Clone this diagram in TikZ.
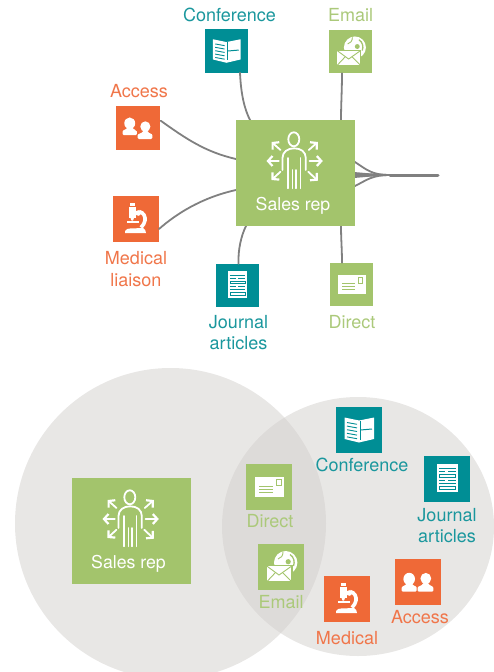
\documentclass[tikz,border=0pt]{standalone}
\usepackage{fontspec}
\setmainfont{TeX Gyre Heros}
\usetikzlibrary{arrows.meta}
\definecolor{teal1}{HTML}{008E95}
\definecolor{orange1}{HTML}{EF6937}
\definecolor{green1}{HTML}{A3C46C}
\definecolor{wire}{HTML}{808080}
\definecolor{disc}{HTML}{D2CFCC}
\definecolor{tealtext}{HTML}{1A979D}
\definecolor{orangetext}{HTML}{F0764A}
\definecolor{greentext}{HTML}{ABC97A}
\tikzset{
  x=1pt,y=-1pt,
  tile/.style={minimum size=#1,inner sep=0pt,outer sep=0pt,draw=none},
  tealtile/.style={tile=#1,fill=teal1},
  orangetile/.style={tile=#1,fill=orange1},
  greentile/.style={tile=#1,fill=green1},
  repbox/.style={minimum width=119,minimum height=106,inner sep=0pt,outer sep=0pt,fill=green1},
  lbl/.style={font=\fontsize{18}{21.5}\selectfont,align=center,inner sep=0pt},
  teallbl/.style={lbl,text=tealtext},
  orangelbl/.style={lbl,text=orangetext},
  greenlbl/.style={lbl,text=greentext},
  replbl/.style={lbl,text=white,font=\fontsize{17.7}{21}\selectfont},
  wireline/.style={draw=wire,line width=1.8,line cap=round},
  trunk/.style={draw=wire,line width=3,line cap=round},
  discfill/.style={fill=disc,fill opacity=.5,draw=none},
  iconline/.style={draw=white,line width=1.8,line cap=round,line join=round},
  pics/rep/.style={code={
    \draw[iconline] (-1.7,-33.7) ellipse (5.5 and 7);
    \draw[iconline] (-13,-3) -- (-13,-15) .. controls (-13,-21) and (-8,-24.7) .. (-1.3,-24.7) .. controls (5.5,-24.7) and (10.3,-21) .. (10.3,-15) -- (10.3,-3);
    \draw[iconline] (-7.5,-15) -- (-7.5,15.3);
    \draw[iconline] (-3,-3) -- (-3,15.3);
    \draw[iconline] (0.6,-3) -- (0.6,15.3);
    \draw[iconline] (5,-15) -- (5,15.3);
    \foreach \ax/\ay/\bx/\by in {-16.7/-12/-29/-12,14/-12/27.3/-12,-15/-23/-24/-31,13.3/-23/22.3/-31,-15/-1.3/-24/7,12.7/-1.3/22.3/7.7}{
      \draw[iconline,-{Straight Barb[length=4.5,width=10,line width=2.2]}] (\ax,\ay) -- (\bx,\by);
    }
  }},
  pics/book/.style={code={
    \fill[white] (-14.5,-12.5) -- (0,-9.5) -- (15,-12.5) -- (15,9) -- (0,12.5) -- (-14.5,9) -- cycle;
    \foreach \i in {0,1,2,3,4}{
      \draw[teal1,line width=.9] (-12,-7.5+\i*3.6) -- (-2,-5.7+\i*3.6);
    }
    \draw[teal1,line width=1] (1.5,-9.5) -- (1.5,10);
    \draw[teal1,line width=1] (1.5,0) -- (13,-1);
  }},
  pics/doc/.style={code={
    \fill[white] (-10,-15) rectangle (10.5,13);
    \begin{scope}[teal1,line width=.8]
      \draw (-8,-11) -- (8.5,-11);
      \draw (-8,-7.5) -- (-2,-7.5) (1,-7.5) -- (8.5,-7.5);
      \draw (-8,-4.7) rectangle (8.5,-2);
      \draw (-8,1) -- (-2,1) (1,1) -- (8.5,1);
      \draw (-8,4) -- (8.5,4);
      \draw (-8,7) rectangle (8.5,10);
    \end{scope}
  }},
  pics/card/.style={code={
    \fill[white] (-14,-10) rectangle (15,10);
    \draw[green1,line width=.9] (7,-7.5) rectangle (12,-1.5);
    \foreach \yy in {-1,2.3,5.7}{
      \draw[green1,line width=.9] (-10,\yy) -- (4,\yy);
    }
  }},
  pics/mailglobe/.style={code={
    \fill[white] (4.7,-4.3) circle (11.7);
    \fill[green1] (7.2,-5.3) circle (2.6);
    \draw[green1,line width=1.3] (9,-12.5) .. controls (13,-10) and (14,-5) .. (12.5,-1);
    \draw[green1,line width=.9] (-3,-8) .. controls (0,-9) and (2,-11) .. (2,-15);
    \fill[white,draw=green1,line width=1.2] (-14.6,-1.2) -- (11,-1.2) -- (11,15) -- (-14.6,15) -- cycle;
    \draw[green1,line width=.9] (-14,-.8) -- (-2,8) -- (10.5,-.8);
    \draw[green1,line width=.9] (-14,14.5) -- (-5.5,5.5) (10.5,14.5) -- (1.5,5.5);
  }},
  pics/people/.style={code={
    \begin{scope}[yshift=#1]
    \fill[white] (-8.8,-3) ellipse (5.8 and 6.2);
    \fill[white,rounded corners=1.2] (-16.3,9.7) -- (-16.3,7) .. controls (-16.3,4) and (-12,3.5) .. (-12,1) -- (-5.5,1) .. controls (-5.5,3.5) and (-1.3,4) .. (-1.3,7) -- (-1.3,9.7) -- cycle;
    \end{scope}
    \begin{scope}[yshift=-#1]
    \fill[white] (7.8,-3.5) ellipse (5.4 and 5.6);
    \fill[white,rounded corners=1.2] (-.3,9.7) -- (-.3,7) .. controls (-.3,4) and (4.5,3.5) .. (4.5,1) -- (11,1) .. controls (11,3.5) and (15.3,4) .. (15.3,7) -- (15.3,9.7) -- cycle;
    \end{scope}
  }},
  pics/scope/.style={code={
    \fill[white] (-6.5,-15.7) rectangle (-1.5,-13.2);
    \fill[white] (-7,-12.3) rectangle (-.5,-1);
    \fill[white] (-5.5,-1) -- (-2,-1) -- (-3,1.5) -- (-4.5,1.5) -- cycle;
    \fill[white] (-8.7,2.2) rectangle (3,3.8);
    \fill[white] (2.3,-6) circle (2.8);
    \draw[white,line width=3.6] (3,-7.5) .. controls (8,-6.5) and (9.5,-2) .. (9,1.5) .. controls (8.7,4) and (7,6.5) .. (5,8.5);
    \fill[white] (-11,14) -- (-11,12) .. controls (-9.5,10) and (-8,9.5) .. (-6,9.5) -- (7,9) .. controls (9,10) and (10,12) .. (10,14) -- cycle;
  }}
}
\begin{document}
\begin{tikzpicture}
\useasboundingbox (0,0) rectangle (494,672);
% top group: connectors first, so the sales box covers them
\node[repbox] (rep) at (295.5,173) {};
\node[tealtile=43.5] (conf) at (226.5,51) {};
\node[greentile=43.5] (mail) at (350.5,51.5) {};
\node[orangetile=43.5] (acc) at (138,128) {};
\node[orangetile=46] (med) at (136,219) {};
\node[tealtile=43.5] (jour) at (237.5,285.5) {};
\node[greentile=43.5] (dir) at (351.5,284.5) {};
\coordinate (hub) at (438,175);
\coordinate (join) at (390,175);
\draw[wireline] ([xshift=13.5]conf.south) .. controls (241,96) and (245,110) .. (250,120) .. controls (262,145) and (335,150) .. (355,162) .. controls (367,170) and (372,175) .. (join);
\draw[wireline] ([xshift=-8.5]mail.south) .. controls (342,90) and (341,105) .. (341,120) .. controls (341,150) and (345,172) .. (355,173) .. controls (367,174) and (375,175) .. (join);
\draw[wireline] ([xshift=1,yshift=29]acc.south east) .. controls (185,138) and (205,152) .. (236,159) .. controls (280,168) and (330,172) .. (355,174) -- (join);
\draw[wireline] ([yshift=13]med.south east) .. controls (175,215) and (200,198) .. (236,190) .. controls (280,180) and (330,178) .. (355,176) -- (join);
\draw[wireline] ([xshift=1]jour.north) .. controls (238,250) and (241,236) .. (246,226) .. controls (262,200) and (335,195) .. (355,186) .. controls (367,180) and (372,175) .. (join);
\draw[wireline] ([xshift=-9.5]dir.north) .. controls (342,250) and (341,238) .. (341,226) .. controls (341,200) and (345,178) .. (355,177) .. controls (367,176) and (375,175) .. (join);
\draw[trunk] (join) -- (hub);
\fill[green1] (rep.south west) rectangle (rep.north east);
\pic at (rep) {rep};
\node[replbl] (replabel) at (293,206) {Sales rep};
\pic[scale=.94] at (conf) {book};
\pic[scale=.94] at (mail) {mailglobe};
\pic[scale=.94] at (acc) {people=2};
\pic at (med) {scope};
\pic[scale=.94] at (jour) {doc};
\pic[scale=.94] at (dir) {card};
\node[teallbl] (conflabel) at (229.5,15) {Conference};
\node[greenlbl] (maillabel) at (350.5,15) {Email};
\node[orangelbl] (acclabel) at (139,91) {Access};
\node[orangelbl] (medlabel) at (136,269) {Medical\\liaison};
\node[teallbl] (jourlabel) at (238.5,332.5) {Journal\\articles};
\node[greenlbl] (dirlabel) at (352,322) {Direct};
% bottom group
\path[discfill] (170.5,523.5) circle (155.5);
\path[discfill] (358,526.5) ellipse (136 and 129.5);
\node[repbox] (rep2) at (131.5,531) {};
\pic at (rep2) {rep};
\node[replbl] (rep2label) at (128.5,564) {Sales rep};
\node[tealtile=46] (conf2) at (359,430) {};
\node[tealtile=46] (jour2) at (447,479) {};
\node[orangetile=46] (acc2) at (418,582) {};
\node[orangetile=46] (med2) at (347,599) {};
\node[greentile=46] (mail2) at (281,567) {};
\node[greentile=46] (dir2) at (269,487) {};
\pic at (conf2) {book};
\pic at (jour2) {doc};
\pic at (acc2) {people=0};
\pic at (med2) {scope};
\pic at (mail2) {mailglobe};
\pic at (dir2) {card};
\node[teallbl] (conf2label) at (362,465) {Conference};
\node[teallbl] (jour2label) at (447,525.5) {Journal\\articles};
\node[orangelbl] (acc2label) at (420,617) {Access};
\node[orangelbl] (med2label) at (347,638) {Medical};
\node[greenlbl] (mail2label) at (281,602) {Email};
\node[greenlbl] (dir2label) at (270,521) {Direct};
\end{tikzpicture}
\end{document}
